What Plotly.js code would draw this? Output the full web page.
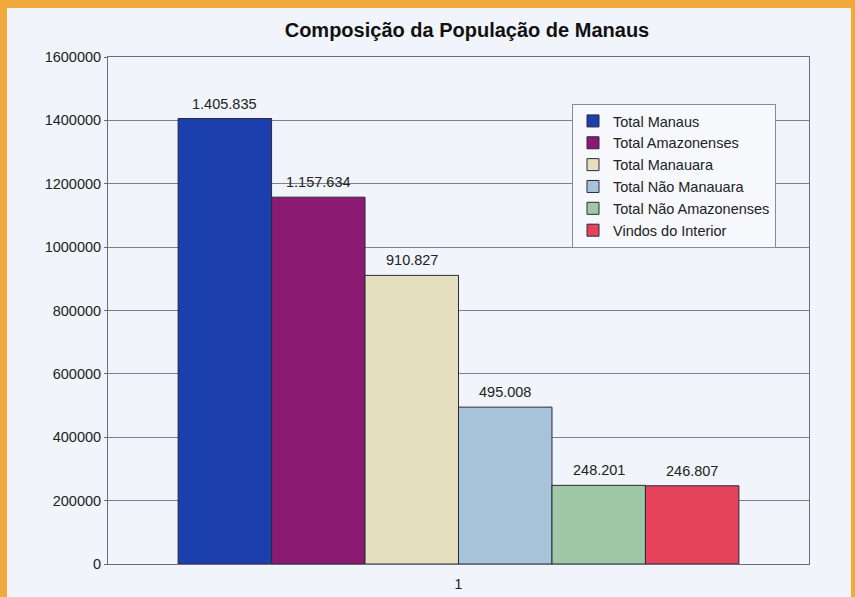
<!DOCTYPE html>
<html>
<head>
<meta charset="utf-8">
<script src="https://cdn.plot.ly/plotly-3.0.1.min.js"></script>
<style>
  html, body { margin: 0; padding: 0; background: #f2a93b; width: 855px; height: 597px; overflow: hidden; }
  #chart { position: absolute; left: 7px; top: 8px; width: 844px; height: 589px; }
</style>
</head>
<body>
<div id="chart"></div>
<script>
const categories = ['1'];
const seriesNames = ['Total Manaus', 'Total Amazonenses', 'Total Manauara', 'Total Não Manauara', 'Total Não Amazonenses', 'Vindos do Interior'];
const seriesValues = [1405835, 1157634, 910827, 495008, 248201, 246807];
const seriesColors = ['#1c3fae', '#8a1a72', '#e6dfbf', '#a6c3d9', '#9fc9a6', '#e5425c'];
const yTicks = [0, 200000, 400000, 600000, 800000, 1000000, 1200000, 1400000, 1600000];

const FONT = 'Liberation Sans, Arial, sans-serif';
const BARGAP = 0.2;
const nSeries = seriesNames.length;

function fmtBR(v) {
  return String(v).replace(/\B(?=(\d{3})+(?!\d))/g, '.');
}

const traces = seriesNames.map((name, i) => ({
  type: 'bar',
  name: name,
  x: categories,
  y: [seriesValues[i]],
  marker: { color: seriesColors[i], line: { color: '#2a2a3a', width: 1 } },
  hoverinfo: 'name+y'
}));

// value labels placed through the axes at each grouped bar's centre
const groupWidth = 1 - BARGAP;
const annotations = seriesValues.map((v, i) => ({
  xref: 'x', yref: 'y',
  x: -groupWidth / 2 + (i + 0.5) * groupWidth / nSeries,
  y: v,
  text: fmtBR(v),
  showarrow: false,
  xanchor: 'center', yanchor: 'middle',
  yshift: 15,
  font: { family: FONT, size: 14.5, color: '#222' }
}));

const layout = {
  width: 844, height: 589,
  paper_bgcolor: '#f1f4fa',
  plot_bgcolor: '#f1f4fa',
  margin: { l: 101, r: 42, t: 49, b: 33 },
  title: {
    text: '<b>Composição da População de Manaus</b>',
    font: { family: FONT, size: 20, color: '#111' },
    x: 0.545, xanchor: 'center', xref: 'container',
    y: 0.962, yanchor: 'middle', yref: 'container'
  },
  barmode: 'group',
  bargap: BARGAP,
  bargroupgap: 0,
  xaxis: {
    type: 'category',
    range: [-0.5, 0.5],
    showgrid: false,
    showline: true, linecolor: '#6a6a80', linewidth: 1, mirror: true,
    ticks: '',
    ticklabelstandoff: 7,
    tickfont: { family: FONT, size: 14, color: '#222' },
    zeroline: false
  },
  yaxis: {
    range: [0, 1600000],
    tickvals: yTicks,
    ticktext: yTicks.map(v => String(v)),
    showgrid: true, gridcolor: '#7f7f8c', gridwidth: 1,
    showline: true, linecolor: '#6a6a80', linewidth: 1, mirror: true,
    ticks: 'outside', ticklen: 3, tickcolor: '#6a6a80',
    tickfont: { family: FONT, size: 14.5, color: '#222' },
    zeroline: false
  },
  annotations: annotations,
  showlegend: true,
  legend: {
    x: (572 - 108) / 701, xanchor: 'left',
    y: (564 - 104) / 507, yanchor: 'top',
    bgcolor: '#f6f8fc',
    bordercolor: '#8a8a96', borderwidth: 1,
    font: { family: FONT, size: 14.5, color: '#222' },
    itemwidth: 30,
    traceorder: 'normal'
  }
};

Plotly.newPlot('chart', traces, layout, { displayModeBar: false, staticPlot: true });
</script>
</body>
</html>
